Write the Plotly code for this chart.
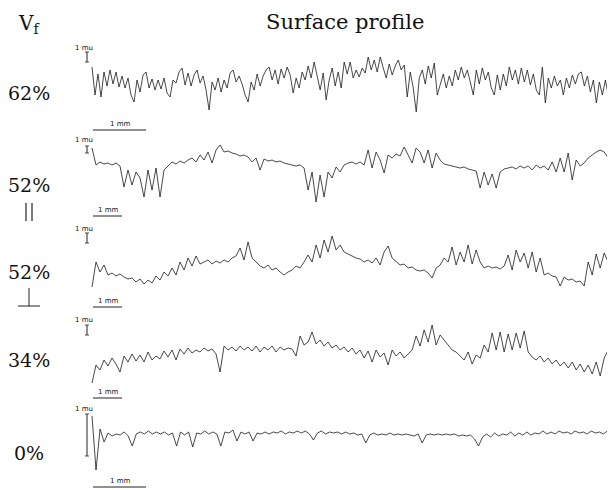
import numpy as np
import plotly.graph_objects as go

# ---------------- data (profile depth below a reference line, arbitrary units) --------------
labels = ["62%", "52%", "52%", "34%", "0%"]
profile_length_mm = [9.8, 17.8, 17.8, 17.8, 9.8]

depth_62 = [17, 45, 24, 47, 22, 36, 20, 34, 22, 37, 26, 38, 28, 45, 52, 30, 42, 25, 22, 38,
            29, 40, 30, 39, 28, 43, 47, 30, 33, 22, 18, 35, 23, 36, 25, 20, 33, 26, 40, 60,
            32, 40, 28, 42, 30, 38, 23, 20, 32, 26, 34, 45, 52, 32, 40, 24, 36, 26, 20, 17,
            30, 20, 34, 19, 28, 17, 25, 43, 28, 38, 22, 30, 16, 28, 12, 25, 40, 23, 50, 30,
            18, 36, 22, 38, 12, 24, 12, 28, 20, 27, 18, 23, 7, 20, 10, 22, 7, 18, 28, 14,
            25, 16, 10, 20, 15, 47, 22, 38, 62, 28, 20, 34, 16, 28, 13, 45, 35, 24, 38, 26,
            36, 20, 30, 17, 28, 20, 32, 45, 20, 34, 18, 30, 22, 38, 45, 25, 40, 24, 36, 17,
            30, 20, 34, 18, 32, 20, 35, 24, 40, 45, 17, 53, 28, 38, 26, 36, 30, 45, 28, 38,
            25, 34, 24, 22, 36, 26, 42, 30, 53, 32, 45, 30, 46, 57]

depth_52_par = [8, 25, 22, 24, 23, 25, 23, 26, 47, 30, 45, 32, 38, 57, 30, 50, 28, 57, 30, 26,
                22, 24, 21, 23, 20, 18, 22, 15, 20, 12, 23, 10, 5, 12, 11, 13, 14, 16, 15, 17,
                22, 18, 30, 19, 21, 20, 22, 21, 23, 24, 25, 26, 25, 28, 50, 32, 62, 35, 57, 32,
                38, 27, 32, 25, 23, 22, 24, 22, 25, 10, 28, 12, 20, 33, 15, 18, 14, 16, 7, 15,
                23, 8, 12, 23, 10, 28, 13, 20, 24, 25, 26, 27, 28, 27, 29, 30, 31, 48, 32, 45,
                34, 48, 32, 29, 28, 27, 29, 26, 28, 26, 30, 25, 28, 26, 30, 22, 32, 18, 32, 13,
                40, 20, 26, 23, 18, 15, 12, 10, 12, 18]

depth_52_perp = [57, 32, 42, 35, 45, 43, 46, 44, 47, 49, 48, 52, 49, 54, 50, 53, 46, 50, 42, 46,
                 38, 45, 32, 40, 28, 36, 26, 34, 32, 30, 34, 31, 33, 30, 32, 28, 26, 18, 30, 12,
                 28, 32, 36, 38, 35, 40, 38, 42, 45, 42, 40, 36, 38, 32, 25, 32, 15, 28, 10, 22,
                 6, 20, 15, 22, 24, 26, 28, 29, 32, 30, 33, 28, 35, 22, 16, 28, 32, 35, 34, 38,
                 37, 40, 41, 40, 43, 48, 38, 35, 28, 32, 17, 35, 22, 32, 15, 34, 20, 32, 38, 36,
                 38, 37, 39, 36, 25, 40, 20, 32, 23, 38, 22, 42, 28, 45, 43, 46, 47, 56, 47, 50,
                 49, 52, 51, 56, 32, 45, 24, 38, 23, 32]

depth_34 = [63, 45, 50, 40, 46, 38, 44, 52, 36, 42, 34, 41, 35, 42, 32, 40, 36, 39, 31, 37,
            30, 40, 29, 34, 28, 33, 30, 32, 28, 31, 29, 34, 52, 26, 30, 27, 31, 26, 30, 27,
            31, 26, 32, 27, 30, 26, 32, 27, 30, 28, 29, 36, 16, 25, 22, 12, 24, 20, 26, 22,
            28, 25, 30, 27, 32, 28, 34, 30, 38, 31, 42, 30, 37, 33, 45, 30, 36, 32, 38, 34,
            30, 16, 26, 10, 22, 5, 25, 15, 20, 26, 30, 32, 36, 40, 32, 44, 35, 38, 25, 32,
            13, 30, 12, 32, 14, 30, 13, 28, 11, 32, 37, 40, 36, 42, 38, 44, 40, 46, 42, 48,
            42, 50, 44, 52, 45, 54, 42, 56, 38, 30]

depth_0 = [6, 60, 19, 32, 23, 26, 24, 25, 22, 26, 36, 24, 22, 24, 21, 24, 22, 24, 22, 25,
           23, 36, 22, 25, 22, 37, 23, 24, 21, 24, 22, 24, 36, 22, 23, 20, 31, 22, 24, 22,
           31, 23, 24, 22, 24, 22, 23, 21, 24, 22, 23, 21, 23, 21, 24, 30, 23, 21, 24, 22,
           23, 22, 24, 22, 24, 23, 25, 24, 33, 25, 23, 25, 24, 25, 23, 25, 24, 25, 24, 25,
           26, 24, 33, 25, 24, 25, 24, 25, 24, 25, 24, 26, 25, 26, 25, 29, 36, 27, 24, 27,
           23, 26, 24, 25, 22, 26, 23, 25, 22, 25, 23, 24, 21, 24, 22, 24, 21, 23, 22, 24,
           21, 23, 22, 24, 21, 23, 22, 24, 21, 23]

profiles = [depth_62, depth_52_par, depth_52_perp, depth_34, depth_0]

# ---------------- layout constants (pixel geometry of the 615 x 490 page) ----------------
PAGE_W, PAGE_H = 615, 490
OFF = 8                                # default body margin of the html page
W, H = PAGE_W - OFF, PAGE_H - OFF      # figure size
X0 = 92                                # left end of all profiles (page px)
px_per_mm = [53, 29, 29, 29, 53]       # horizontal scale of each profile
ref_px = [50, 140, 230, 320, 410]      # reference line of each profile (page px from top)


def px(x, y):
    return (x - OFF) / W, 1 - (y - OFF) / H


fig = go.Figure()
for i, (d, L) in enumerate(zip(profiles, profile_length_mm)):
    n = i + 1
    xs = np.linspace(0, L, len(d))
    fig.add_trace(go.Scatter(x=xs, y=d, mode="lines",
                             line=dict(color="#1a1a1a", width=0.8),
                             xaxis="x" if n == 1 else f"x{n}",
                             yaxis="y" if n == 1 else f"y{n}",
                             hoverinfo="skip", showlegend=False))

layout_axes = {}
for i in range(5):
    n = i + 1
    key_x = "xaxis" if n == 1 else f"xaxis{n}"
    key_y = "yaxis" if n == 1 else f"yaxis{n}"
    p = px_per_mm[i]
    ax = dict(domain=[0, 1], range=[(OFF - X0) / p, (PAGE_W - X0) / p],
              visible=False, fixedrange=True)
    ay = dict(domain=[0, 1], range=[PAGE_H - ref_px[i], OFF - ref_px[i]],
              visible=False, fixedrange=True)
    if n > 1:
        ax["overlaying"] = "x"
        ay["overlaying"] = "y"
    layout_axes[key_x] = ax
    layout_axes[key_y] = ay

fig.update_layout(width=W, height=H, margin=dict(l=0, r=0, t=0, b=0),
                  paper_bgcolor="white", plot_bgcolor="white", **layout_axes)

shapes = []
annos = []


def line(x1, y1, x2, y2, w=1.0, color="#222"):
    a, b = px(x1, y1)
    c, d = px(x2, y2)
    shapes.append(dict(type="line", xref="paper", yref="paper", x0=a, y0=b, x1=c, y1=d,
                       line=dict(color=color, width=w)))


def text(x, y, s, size, family="DejaVu Serif", color="#111", anchor="center"):
    a, b = px(x, y)
    annos.append(dict(x=a, y=b, xref="paper", yref="paper", text=s, showarrow=False,
                      font=dict(size=size, family=family, color=color),
                      xanchor=anchor, yanchor="middle"))


# headings
text(345, 22, "Surface profile", 21)
text(29, 24, "V<sub>f</sub>", 20)

# volume fraction labels
label_y = [93, 185, 272, 360, 453]
for lab, y in zip(labels, label_y):
    text(29, y, lab, 19)

# parallel / perpendicular symbols
line(26, 203, 26, 221, 1.2)
line(32, 203, 32, 221, 1.2)
line(29, 288, 29, 306, 1.0)
line(18, 306, 40, 306, 1.0)

# vertical "1 mu" scale bars and horizontal "1 mm" scale bars
mu_bar = [(52, 62), (146, 153), (233, 243), (325, 335), (414, 456)]
mu_txt = [48, 140, 229, 320, 409]
mm_bar_y = [130, 216, 307, 398, 487]
for i in range(5):
    top, bot = mu_bar[i]
    line(87, top, 87, bot, 1.0)
    line(85, top, 89, top, 0.8)
    line(85, bot, 89, bot, 0.8)
    text(84, mu_txt[i], "1 mu", 7, family="DejaVu Sans")
    x_end = X0 + 1 + px_per_mm[i]
    line(X0 + 1, mm_bar_y[i], x_end, mm_bar_y[i], 1.0)
    text((X0 + 1 + x_end) / 2, mm_bar_y[i] - 6, "1 mm", 7, family="DejaVu Sans")

fig.update_layout(shapes=shapes, annotations=annos)
fig.write_html("out.html")
